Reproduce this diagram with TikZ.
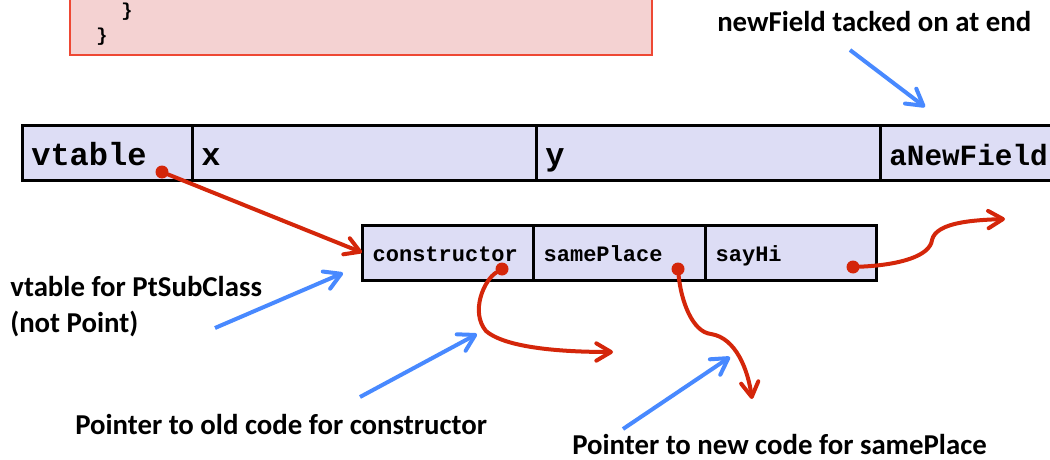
\documentclass[tikz,border=0pt]{standalone}
\usepackage{fontspec}
\setmainfont{Carlito}
\newfontfamily\codefont{Liberation Mono}
\usetikzlibrary{arrows.meta}

\definecolor{cellfill}{RGB}{221,221,245}
\definecolor{codefill}{RGB}{244,210,210}
\definecolor{codeedge}{RGB}{238,72,52}
\definecolor{ptrred}{RGB}{212,38,10}
\definecolor{noteblue}{RGB}{72,137,255}

\begin{document}
\begin{tikzpicture}[x=0.75pt, y=-0.75pt,
  objcell/.style={draw=black, line width=2.25pt, fill=cellfill, anchor=west, align=left,
    outer sep=0pt, minimum height=41.5pt, inner xsep=7pt, text height=19.5pt, text depth=0pt,
    font=\codefont\bfseries\fontsize{24}{24}\selectfont},
  vcell/.style={objcell, minimum height=41.25pt, inner xsep=8pt, text height=14.2pt,
    font=\codefont\bfseries\fontsize{16.5}{16.5}\selectfont},
  ptr/.style={circle, fill=ptrred, inner sep=0pt, minimum size=9.75pt},
  redarrow/.style={draw=ptrred, line width=3pt, line cap=round,
    -{Straight Barb[length=11pt, width=13pt, round]}},
  bluearrow/.style={draw=noteblue, line width=3pt,
    -{Straight Barb[length=12pt, width=14pt, round]}},
  note/.style={font=\bfseries\fontsize{21.6}{27}\selectfont, inner sep=0pt}]
\useasboundingbox (0,0) rectangle (1050,460);
\clip (0,0) rectangle (1050,460);

% code listing (cut at top)
\draw[draw=codeedge, fill=codefill, line width=0.9pt] (70,-10) rectangle (652,55);
\node[anchor=base west, inner sep=0pt, font=\codefont\bfseries\fontsize{14}{14}\selectfont] (brace1) at (121,17) {\}};
\node[anchor=base west, inner sep=0pt, font=\codefont\bfseries\fontsize{14}{14}\selectfont] (brace2) at (96,42) {\}};

% the object
\node[objcell, text width=113.5pt] (vtable) at (22,153) {vtable};
\node[objcell, text width=244pt] (x) at (vtable.east) {x};
\node[objcell, text width=244pt] (y) at (x.east) {y};
\node[objcell, text width=196pt, font=\codefont\bfseries\fontsize{22}{22}\selectfont] (newfield) at (y.east) {aNewField};

% the vtable
\node[vcell, text width=112.25pt] (ctor) at (362,252.5) {constructor};
\node[vcell, text width=113pt] (same) at (ctor.east) {samePlace};
\node[vcell, text width=112.25pt] (sayhi) at (same.east) {sayHi};

% pointers
\node[ptr] (vtdot) at (162,172) {};
\node[ptr] (ctordot) at (502,269) {};
\node[ptr] (samedot) at (678,269) {};
\node[ptr] (hidot) at (853,267) {};
\coordinate (oldcode) at (613,352);
\coordinate (newcode) at (752,399);
\coordinate (hicode) at (1005,219);

\draw[redarrow] (vtdot) -- (ctor.west);
\draw[redarrow] (ctordot) .. controls (484,280) and (470,312) .. (486,331)
  .. controls (508,350) and (575,352) .. (oldcode);
\draw[redarrow] (samedot) .. controls (681,300) and (692,332) .. (711,334)
  .. controls (736,338) and (748,370) .. (newcode);
\draw[redarrow] (hidot) .. controls (900,265) and (930,256) .. (932,240)
  .. controls (936,222) and (975,220) .. (hicode);

% notes
\node[note, anchor=base west] (fieldnote) at (717,32) {newField tacked on at end};
\node[note, anchor=west, align=left] (vtnote) at (10,307) {vtable for PtSubClass\\(not Point)};
\node[note, anchor=base west] (oldnote) at (75,434) {Pointer to old code for constructor};
\node[note, anchor=base west] (newnote) at (572,454) {Pointer to new code for samePlace};

\coordinate (fieldfrom) at (850,50);
\coordinate (fieldto) at (925,107);
\coordinate (vtfrom) at (215,328);
\coordinate (vtto) at (343,273);
\coordinate (oldfrom) at (360,397);
\coordinate (oldto) at (477,334);
\coordinate (newfrom) at (623,429);
\coordinate (newto) at (730,357);

\draw[bluearrow] (fieldfrom) -- (fieldto);
\draw[bluearrow] (vtfrom) -- (vtto);
\draw[bluearrow] (oldfrom) -- (oldto);
\draw[bluearrow] (newfrom) -- (newto);
\end{tikzpicture}
\end{document}
